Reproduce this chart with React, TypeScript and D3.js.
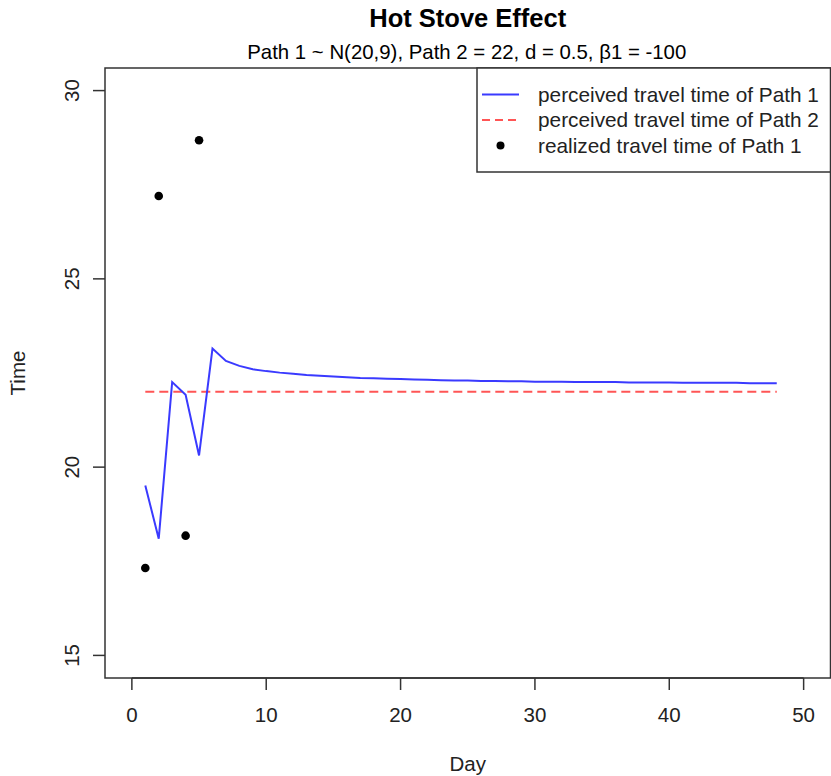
import React from "react";
import * as d3 from "d3";

const title = "Hot Stove Effect";
const subtitle = "Path 1 ~ N(20,9), Path 2 = 22, d = 0.5, β1 = -100";
const xLabel = "Day";
const yLabel = "Time";

const days: number[] = Array.from({ length: 48 }, (_, i) => i + 1);
const perceived1: number[] = [
  19.51, 18.1, 22.26, 21.92, 20.31, 23.15, 22.82, 22.69, 22.6, 22.55,
  22.51, 22.48, 22.45, 22.43, 22.41, 22.39, 22.37, 22.36, 22.35, 22.34,
  22.33, 22.32, 22.31, 22.3, 22.3, 22.29, 22.29, 22.28, 22.28, 22.27,
  22.27, 22.27, 22.26, 22.26, 22.26, 22.26, 22.25, 22.25, 22.25, 22.25,
  22.24, 22.24, 22.24, 22.24, 22.24, 22.23, 22.23, 22.23,
];
const perceived2Value = 22;
const realizedDays: number[] = [1, 2, 4, 5];
const realizedValues: number[] = [17.32, 27.2, 18.18, 28.68];

const xTicks: number[] = [0, 10, 20, 30, 40, 50];
const yTicks: number[] = [15, 20, 25, 30];
const legendLabels: string[] = [
  "perceived travel time of Path 1",
  "perceived travel time of Path 2",
  "realized travel time of Path 1",
];

const W = 831;
const H = 776;
const left = 105;
const right = 830.5;
const top = 68;
const bottom = 678;
const font = "'Liberation Sans', Arial, Helvetica, sans-serif";

export default function App() {
  const x = d3.scaleLinear().domain([-2, 52]).range([left, right]);
  const y = d3.scaleLinear().domain([14.4, 30.6]).range([bottom, top]);

  const line1 = d3
    .line<number>()
    .x((_, i) => x(days[i]))
    .y((d) => y(d))(perceived1);

  const line2 = d3
    .line<number>()
    .x((d) => x(d))
    .y(() => y(perceived2Value))([days[0], days[days.length - 1]]);

  const blue = "#3a3aff";
  const red = "#ff5555";

  const lgX = 477;
  const lgY = top;
  const lgW = right - lgX;
  const lgH = 104;
  const rowY = [94.5, 120, 145.5];

  return (
    <svg
      width={W}
      height={H}
      style={{ position: "absolute", left: 0, top: 0, background: "#fff" }}
      fontFamily={font}
    >
      <rect x={0} y={0} width={W} height={H} fill="#fff" />
      <text x={(left + right) / 2} y={27} textAnchor="middle" fontSize={25.5} fontWeight="bold" fill="#000">
        {title}
      </text>
      <text x={(left + right) / 2 - 1} y={59} textAnchor="middle" fontSize={20.4} fill="#000">
        {subtitle}
      </text>

      {/* plot box */}
      <rect x={left} y={top} width={right - left} height={bottom - top} fill="none" stroke="#333" strokeWidth={1.5} />

      {/* x axis */}
      <line x1={x(xTicks[0])} x2={x(xTicks[xTicks.length - 1])} y1={bottom} y2={bottom} stroke="#333" strokeWidth={1.5} />
      {xTicks.map((t) => (
        <g key={"xt" + t}>
          <line x1={x(t)} x2={x(t)} y1={bottom} y2={bottom + 12} stroke="#333" strokeWidth={1.5} />
          <text x={x(t)} y={722} textAnchor="middle" fontSize={20.5} fill="#222">
            {t}
          </text>
        </g>
      ))}
      <text x={(left + right) / 2} y={771} textAnchor="middle" fontSize={20.5} fill="#222">
        {xLabel}
      </text>

      {/* y axis */}
      {yTicks.map((t) => (
        <g key={"yt" + t}>
          <line x1={left - 12} x2={left} y1={y(t)} y2={y(t)} stroke="#333" strokeWidth={1.5} />
          <text
            transform={`translate(${79},${y(t)}) rotate(-90)`}
            textAnchor="middle"
            fontSize={20.5}
            fill="#222"
          >
            {t}
          </text>
        </g>
      ))}
      <text
        transform={`translate(${25},${(top + bottom) / 2}) rotate(-90)`}
        textAnchor="middle"
        fontSize={20.5}
        fill="#222"
      >
        {yLabel}
      </text>

      {/* data */}
      <path d={line2 || ""} fill="none" stroke={red} strokeWidth={2} strokeDasharray="9,5" />
      <path d={line1 || ""} fill="none" stroke={blue} strokeWidth={2} strokeLinejoin="miter" />
      {realizedDays.map((d, i) => (
        <circle key={"p" + d} cx={x(d)} cy={y(realizedValues[i])} r={4.3} fill="#000" />
      ))}

      {/* legend */}
      <rect x={lgX} y={lgY} width={lgW} height={lgH} fill="#fff" stroke="#333" strokeWidth={1.5} />
      <line x1={482} x2={519} y1={rowY[0]} y2={rowY[0]} stroke={blue} strokeWidth={2} />
      <line x1={482} x2={519} y1={rowY[1]} y2={rowY[1]} stroke={red} strokeWidth={2} strokeDasharray="8,5" />
      <circle cx={500.5} cy={rowY[2]} r={4} fill="#000" />
      {legendLabels.map((l, i) => (
        <text key={l} x={538} y={rowY[i] + 7} fontSize={20.8} fill="#222">
          {l}
        </text>
      ))}
    </svg>
  );
}
